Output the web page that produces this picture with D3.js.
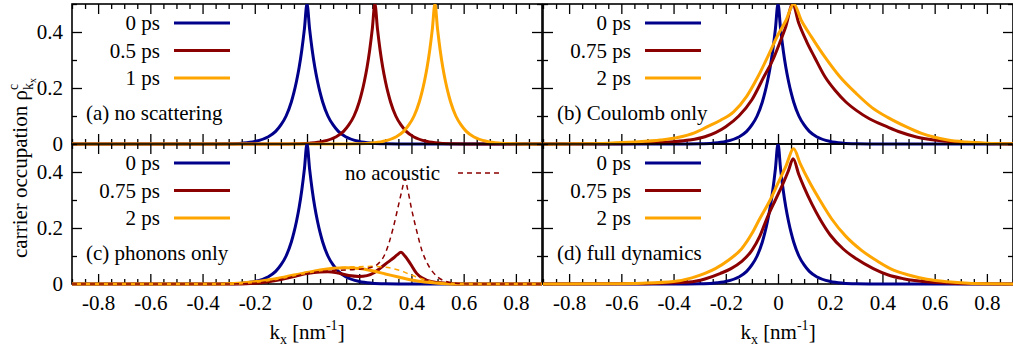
<!DOCTYPE html>
<html>
<head>
<meta charset="utf-8">
<script src="https://cdn.jsdelivr.net/npm/d3@7"></script>
<style>
  body { margin: 0; background: #fff; }
  svg { display: block; }
  svg text { font-family: "Liberation Serif", "Times New Roman", Times, Tinos, "Nimbus Roman", "DejaVu Serif", "Noto Serif", serif; }
</style>
</head>
<body>
<svg id="chart" width="1013" height="351"></svg>
<script>
// cores no estilo gnuplot
const corAzul = "#00008b", corVermelho = "#8b0000", corLaranja = "#ffa500";

// eixos
const xTicksMaiores = [-0.8, -0.6, -0.4, -0.2, 0, 0.2, 0.4, 0.6, 0.8];
const yTicksMaiores = [0, 0.2, 0.4];

// curva inicial (0 ps), igual nos quatro paineis
const inicial0ps = [[-0.9,0],[-0.4,0],[-0.3,0.001],[-0.25,0.003],[-0.2,0.009],[-0.15,0.025],[-0.12,0.045],[-0.1,0.068],[-0.08,0.10],[-0.06,0.15],[-0.05,0.184],[-0.04,0.225],[-0.03,0.274],[-0.02,0.335],[-0.01,0.41],[0,0.5],
  [0.01,0.41],[0.02,0.335],[0.03,0.274],[0.04,0.225],[0.05,0.184],[0.06,0.15],[0.08,0.10],[0.1,0.068],[0.12,0.045],[0.15,0.025],[0.2,0.009],[0.25,0.003],[0.3,0.001],[0.4,0],[0.9,0]];

// (a) sem espalhamento
const semEsp05ps = [[-0.9,0],[-0.1,0],[-0.04,0.001],[0.01,0.003],[0.06,0.009],[0.11,0.025],[0.14,0.045],[0.16,0.068],[0.18,0.10],[0.20,0.15],[0.21,0.184],[0.22,0.225],[0.23,0.274],[0.24,0.335],[0.25,0.41],[0.26,0.5],
  [0.27,0.41],[0.28,0.335],[0.29,0.274],[0.30,0.225],[0.31,0.184],[0.32,0.15],[0.34,0.10],[0.36,0.068],[0.38,0.045],[0.41,0.025],[0.46,0.009],[0.51,0.003],[0.56,0.001],[0.66,0],[0.9,0]];
const semEsp1ps = [[-0.9,0],[0.1,0],[0.19,0.001],[0.24,0.003],[0.29,0.009],[0.34,0.025],[0.37,0.045],[0.39,0.068],[0.41,0.10],[0.43,0.15],[0.44,0.184],[0.45,0.225],[0.46,0.274],[0.47,0.335],[0.48,0.41],[0.49,0.5],
  [0.50,0.41],[0.51,0.335],[0.52,0.274],[0.53,0.225],[0.54,0.184],[0.55,0.15],[0.57,0.10],[0.59,0.068],[0.61,0.045],[0.64,0.025],[0.69,0.009],[0.74,0.003],[0.79,0.001],[0.9,0]];

// (b) so Coulomb
const coulomb075ps = [[-0.9,0],[-0.6,0.001],[-0.5,0.003],[-0.4,0.008],[-0.34,0.014],[-0.28,0.026],[-0.2,0.062],[-0.15,0.10],[-0.1,0.158],[-0.054,0.24],[-0.02,0.30],[0.006,0.36],[0.03,0.42],[0.056,0.5],
  [0.08,0.43],[0.11,0.365],[0.14,0.31],[0.18,0.24],[0.22,0.19],[0.26,0.15],[0.3,0.12],[0.35,0.09],[0.417,0.062],[0.47,0.042],[0.53,0.025],[0.6,0.014],[0.68,0.007],[0.76,0.003],[0.84,0.001],[0.9,0]];
const coulomb2ps = [[-0.9,0],[-0.75,0.001],[-0.65,0.003],[-0.55,0.007],[-0.45,0.014],[-0.38,0.024],[-0.32,0.04],[-0.27,0.062],[-0.22,0.085],[-0.17,0.115],[-0.12,0.17],[-0.077,0.24],[-0.04,0.31],[0,0.39],[0.03,0.44],[0.06,0.5],
  [0.09,0.44],[0.13,0.38],[0.18,0.31],[0.237,0.24],[0.3,0.18],[0.36,0.13],[0.42,0.095],[0.49,0.062],[0.55,0.038],[0.6,0.024],[0.65,0.014],[0.72,0.007],[0.8,0.003],[0.9,0.001]];

// (c) so fonons
const fonons075ps = [[-0.9,0],[-0.3,0],[-0.2,0.003],[-0.15,0.008],[-0.1,0.016],[-0.05,0.027],[0,0.037],[0.05,0.043],[0.08,0.044],[0.12,0.039],[0.16,0.03],[0.2,0.027],[0.23,0.03],[0.26,0.042],[0.28,0.056],[0.31,0.078],[0.33,0.092],[0.345,0.104],[0.36,0.113],
  [0.375,0.1],[0.395,0.074],[0.42,0.038],[0.44,0.022],[0.46,0.013],[0.5,0.005],[0.54,0.002],[0.6,0],[0.9,0]];
const fonons2ps = [[-0.9,0],[-0.35,0],[-0.25,0.004],[-0.15,0.014],[-0.1,0.022],[-0.05,0.032],[0,0.041],[0.05,0.05],[0.1,0.056],[0.15,0.058],[0.2,0.055],[0.25,0.047],[0.3,0.036],[0.35,0.025],[0.4,0.014],[0.45,0.007],[0.5,0.003],[0.6,0],[0.9,0]];
const semAcustico075ps = [[-0.9,0],[-0.3,0],[-0.2,0.003],[-0.15,0.008],[-0.1,0.016],[-0.05,0.027],[0,0.037],[0.05,0.044],[0.1,0.048],[0.15,0.05],[0.2,0.053],[0.24,0.058],[0.27,0.07],[0.3,0.11],[0.33,0.2],[0.35,0.28],[0.365,0.34],[0.375,0.376],
  [0.385,0.34],[0.4,0.27],[0.42,0.19],[0.44,0.12],[0.46,0.075],[0.48,0.045],[0.5,0.025],[0.53,0.01],[0.57,0.003],[0.62,0],[0.9,0]];
const semAcustico2ps = [[-0.9,0],[-0.35,0],[-0.25,0.004],[-0.15,0.014],[-0.1,0.022],[-0.05,0.032],[0,0.042],[0.05,0.051],[0.1,0.057],[0.15,0.06],[0.2,0.062],[0.25,0.063],[0.3,0.06],[0.35,0.05],[0.4,0.032],[0.45,0.015],[0.5,0.006],[0.55,0.002],[0.6,0],[0.9,0]];

// (d) dinamica completa
const completa075ps = [[-0.9,0],[-0.55,0.001],[-0.45,0.003],[-0.34,0.007],[-0.28,0.018],[-0.22,0.038],[-0.18,0.055],[-0.14,0.08],[-0.1,0.12],[-0.07,0.17],[-0.043,0.233],[-0.01,0.3],[0.02,0.36],[0.04,0.405],[0.058,0.447],
  [0.08,0.39],[0.1,0.345],[0.13,0.285],[0.16,0.233],[0.2,0.175],[0.25,0.125],[0.3,0.09],[0.365,0.055],[0.42,0.033],[0.48,0.019],[0.58,0.007],[0.66,0.003],[0.75,0.001],[0.9,0]];
const completa2ps = [[-0.9,0],[-0.65,0.001],[-0.52,0.003],[-0.4,0.009],[-0.33,0.022],[-0.28,0.038],[-0.24,0.055],[-0.19,0.085],[-0.14,0.125],[-0.1,0.18],[-0.07,0.233],[-0.03,0.3],[0,0.36],[0.03,0.42],[0.06,0.483],
  [0.085,0.43],[0.12,0.365],[0.16,0.3],[0.205,0.233],[0.26,0.17],[0.32,0.12],[0.38,0.082],[0.43,0.055],[0.5,0.032],[0.57,0.017],[0.65,0.008],[0.73,0.003],[0.82,0.001],[0.9,0]];

const legendaA = ["0 ps", "0.5 ps", "1 ps"];
const legendaBCD = ["0 ps", "0.75 ps", "2 ps"];

const svg = d3.select("#chart");
const fonte = 21;

const xEsq = d3.scaleLinear().domain([-0.9, 0.9]).range([72, 542]);
const xDir = d3.scaleLinear().domain([-0.9, 0.9]).range([543, 1013]);
const yCima = d3.scaleLinear().domain([0, 0.5]).range([144, 4]);
const yBaixo = d3.scaleLinear().domain([0, 0.5]).range([284, 144]);

const paineis = [
  { id: "a", x: xEsq, y: yCima, rotulo: "(a) no scattering", legenda: legendaA,
    curvas: [[inicial0ps, corAzul], [semEsp05ps, corVermelho], [semEsp1ps, corLaranja]], tracejadas: [],
    yLabels: true, xLabels: false },
  { id: "b", x: xDir, y: yCima, rotulo: "(b) Coulomb only", legenda: legendaBCD,
    curvas: [[inicial0ps, corAzul], [coulomb075ps, corVermelho], [coulomb2ps, corLaranja]], tracejadas: [],
    yLabels: false, xLabels: false },
  { id: "c", x: xEsq, y: yBaixo, rotulo: "(c) phonons only", legenda: legendaBCD,
    curvas: [[inicial0ps, corAzul], [fonons075ps, corVermelho], [fonons2ps, corLaranja]],
    tracejadas: [[semAcustico2ps, corLaranja], [semAcustico075ps, corVermelho]],
    yLabels: true, xLabels: true },
  { id: "d", x: xDir, y: yBaixo, rotulo: "(d) full dynamics", legenda: legendaBCD,
    curvas: [[inicial0ps, corAzul], [completa075ps, corVermelho], [completa2ps, corLaranja]], tracejadas: [],
    yLabels: false, xLabels: true }
];

const coresLegenda = [corAzul, corVermelho, corLaranja];
const minX = d3.range(-0.9, 0.9001, 0.05).map(v => +v.toFixed(2)).filter(v => !xTicksMaiores.includes(v));
const minY = [0.1, 0.3, 0.5];
const fmt = d => String(+d.toFixed(1));

const defs = svg.append("defs");

paineis.forEach(p => {
  const [x0, x1] = p.x.range();
  const [yb, yt] = p.y.range();
  const g = svg.append("g").attr("class", "painel-" + p.id);

  defs.append("clipPath").attr("id", "clip-" + p.id)
    .append("rect").attr("x", x0).attr("y", yt).attr("width", x1 - x0).attr("height", yb - yt + 2);

  // moldura
  g.append("rect").attr("x", x0).attr("y", yt).attr("width", x1 - x0).attr("height", yb - yt)
    .attr("fill", "none").attr("stroke", "#000").attr("stroke-width", 1.6);

  // ticks para dentro, nos quatro lados
  const eixos = [
    [d3.axisBottom(p.x), `translate(0,${yb})`, xTicksMaiores, minX, p.xLabels],
    [d3.axisTop(p.x), `translate(0,${yt})`, xTicksMaiores, minX, false],
    [d3.axisLeft(p.y), `translate(${x0},0)`, yTicksMaiores, minY, p.yLabels],
    [d3.axisRight(p.y), `translate(${x1},0)`, yTicksMaiores, minY, false]
  ];
  eixos.forEach(([eixo, tr, maiores, menores, comTexto], i) => {
    const isX = i < 2;
    const gM = g.append("g").attr("transform", tr)
      .call(eixo.tickValues(maiores).tickSize(-10).tickPadding(isX ? 11 : 9).tickFormat(comTexto ? fmt : ""));
    const gm = g.append("g").attr("transform", tr)
      .call(eixo.tickValues(menores).tickSize(-5).tickFormat(""));
    [gM, gm].forEach(s => {
      s.attr("font-family", null);
      s.select(".domain").remove();
      s.selectAll("line").attr("stroke", "#000").attr("stroke-width", 1.3);
      s.selectAll("text").attr("font-size", fonte).attr("fill", "#000");
    });
  });

  const linha = d3.line().x(d => p.x(d[0])).y(d => p.y(d[1])).curve(d3.curveMonotoneX);
  const gc = g.append("g").attr("clip-path", `url(#clip-${p.id})`);
  p.curvas.forEach(([dados, cor]) => {
    gc.append("path").datum(dados).attr("d", linha)
      .attr("fill", "none").attr("stroke", cor).attr("stroke-width", 3).attr("stroke-linejoin", "round");
  });
  p.tracejadas.forEach(([dados, cor]) => {
    gc.append("path").datum(dados).attr("d", linha)
      .attr("fill", "none").attr("stroke", cor).attr("stroke-width", 1.5).attr("stroke-dasharray", "5,4");
  });

  // legenda
  const textoFim = x0 + 88, linhaIni = x0 + 102, linhaFim = x0 + 158;
  p.legenda.forEach((t, i) => {
    const yc = yt + 19 + i * 27.5;
    g.append("text").attr("x", textoFim).attr("y", yc + 7).attr("text-anchor", "end")
      .attr("font-size", fonte).text(t);
    g.append("line").attr("x1", linhaIni).attr("x2", linhaFim).attr("y1", yc).attr("y2", yc)
      .attr("stroke", coresLegenda[i]).attr("stroke-width", 3);
  });

  g.append("text").attr("x", x0 + 14).attr("y", yt + 116).attr("font-size", fonte).text(p.rotulo);

  if (p.tracejadas.length) {
    const yc = yt + 29;
    g.append("text").attr("x", 345).attr("y", yc + 7).attr("font-size", fonte).text("no acoustic");
    g.append("line").attr("x1", 458).attr("x2", 500).attr("y1", yc).attr("y2", yc)
      .attr("stroke", corVermelho).attr("stroke-width", 1.5).attr("stroke-dasharray", "5,4");
  }
});

// titulos dos eixos
[xEsq, xDir].forEach(x => {
  const t = svg.append("text").attr("x", x(0)).attr("y", 339).attr("text-anchor", "middle").attr("font-size", fonte);
  t.append("tspan").text("k");
  t.append("tspan").attr("font-size", 14).attr("dy", 5).text("x");
  t.append("tspan").attr("dy", -5).text(" [nm");
  t.append("tspan").attr("font-size", 14).attr("dy", -9).text("-1");
  t.append("tspan").attr("dy", 9).text("]");
});

const yl = svg.append("text").attr("transform", "translate(27,258) rotate(-90)").attr("font-size", fonte);
yl.append("tspan").text("carrier occupation ρ");
yl.append("tspan").attr("font-size", 14).attr("dy", -9).text("c");
yl.append("tspan").attr("font-size", 14).attr("dx", -6).attr("dy", 15).text("k");
yl.append("tspan").attr("font-size", 10).attr("dy", 3).text("x");
</script>
</body>
</html>
